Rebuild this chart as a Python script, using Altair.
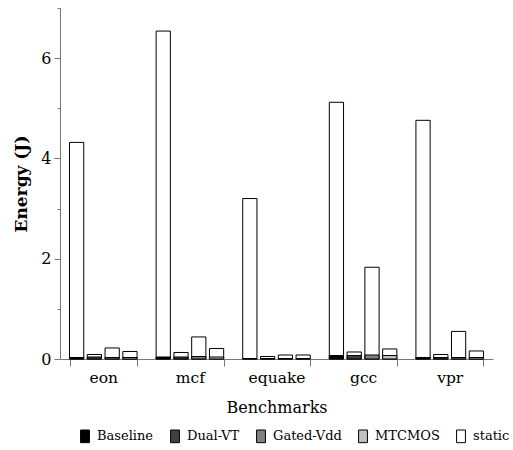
import altair as alt
import pandas as pd

benchmarks = ["eon", "mcf", "equake", "gcc", "vpr"]
techniques = ["Baseline", "Dual-VT", "Gated-Vdd", "MTCMOS"]

# total energy (dynamic + static) per benchmark, one value per technique
total_eon = [4.32, 0.09, 0.22, 0.15]
total_mcf = [6.54, 0.13, 0.44, 0.21]
total_equake = [3.20, 0.05, 0.08, 0.08]
total_gcc = [5.12, 0.14, 1.83, 0.20]
total_vpr = [4.76, 0.09, 0.55, 0.16]

# dynamic energy per benchmark, one value per technique
dyn_eon = [0.03, 0.04, 0.03, 0.03]
dyn_mcf = [0.04, 0.04, 0.05, 0.04]
dyn_equake = [0.01, 0.01, 0.01, 0.01]
dyn_gcc = [0.07, 0.07, 0.08, 0.07]
dyn_vpr = [0.03, 0.03, 0.03, 0.03]

legend_items = ["Baseline", "Dual-VT", "Gated-Vdd", "MTCMOS", "static"]
legend_colors = ["#000000", "#404040", "#808080", "#c0c0c0", "#ffffff"]

totals = [total_eon, total_mcf, total_equake, total_gcc, total_vpr]
dyns = [dyn_eon, dyn_mcf, dyn_equake, dyn_gcc, dyn_vpr]

rows = []
for b, tot, dy in zip(benchmarks, totals, dyns):
    for t, tv, dv in zip(techniques, tot, dy):
        rows.append({"benchmark": b, "technique": t, "total": tv,
                     "dynamic": dv, "part": "static"})
df = pd.DataFrame(rows)

FONT = "DejaVu Serif"

x_enc = alt.X(
    "benchmark:N", sort=benchmarks,
    scale=alt.Scale(paddingInner=0.22, paddingOuter=0.11),
    axis=alt.Axis(title="Benchmarks", labelAngle=0, tickBand="extent",
                  tickSize=7, labelPadding=4, labelFontSize=15.5,
                  titleFontSize=16, titleFontWeight="normal", titlePadding=14,
                  labelFont=FONT, titleFont=FONT,
                  domainColor="#777777", tickColor="#777777",
                  labelColor="black", titleColor="black"),
)
xoff_enc = alt.XOffset("technique:N", sort=techniques,
                       scale=alt.Scale(paddingInner=0.2, paddingOuter=0))

color_scale = alt.Scale(domain=legend_items, range=legend_colors)
legend = alt.Legend(
    title=None, orient="none", direction="horizontal", columns=5,
    legendX=18, legendY=421,
    symbolType="M-0.7,-1H0.7V1H-0.7Z", symbolSize=160,
    symbolStrokeColor="black", symbolStrokeWidth=1,
    labelFontSize=13, labelFont=FONT, labelOffset=5, columnPadding=14,
    labelColor="black", padding=0, labelLimit=200,
)

y_axis = alt.Axis(
    title="Energy (J)", values=[0, 1, 2, 3, 4, 5, 6, 7],
    labelExpr="datum.value % 2 == 0 ? datum.label : ''",
    tickSize={"condition": {"test": "datum.value % 2 == 0", "value": 6}, "value": 3},
    grid=False, labelFontSize=16, labelPadding=3,
    titleFontSize=17, titleFontWeight="bold", titlePadding=10,
    labelFont=FONT, titleFont=FONT,
    domainColor="#777777", tickColor="#777777",
    labelColor="black", titleColor="black",
)

static_bars = alt.Chart(df).mark_bar(stroke="black", strokeWidth=1).encode(
    x=x_enc, xOffset=xoff_enc,
    y=alt.Y("total:Q", stack=None, scale=alt.Scale(domain=[0, 7], nice=False),
            axis=y_axis),
    color=alt.Color("part:N", scale=color_scale, legend=legend),
)

dyn_bars = alt.Chart(df).mark_bar(stroke="black", strokeWidth=1).encode(
    x=x_enc, xOffset=xoff_enc,
    y=alt.Y("dynamic:Q", stack=None),
    color=alt.Color("technique:N", scale=color_scale, legend=legend),
)

chart = alt.layer(static_bars, dyn_bars).properties(
    width=433, height=351,
    autosize=alt.AutoSizeParams(type="none"),
    padding={"left": 60, "top": 8, "right": 20, "bottom": 91},
).configure(font=FONT).configure_view(stroke=None)

chart.save("out.html", embed_options={"renderer": "svg", "actions": False})
